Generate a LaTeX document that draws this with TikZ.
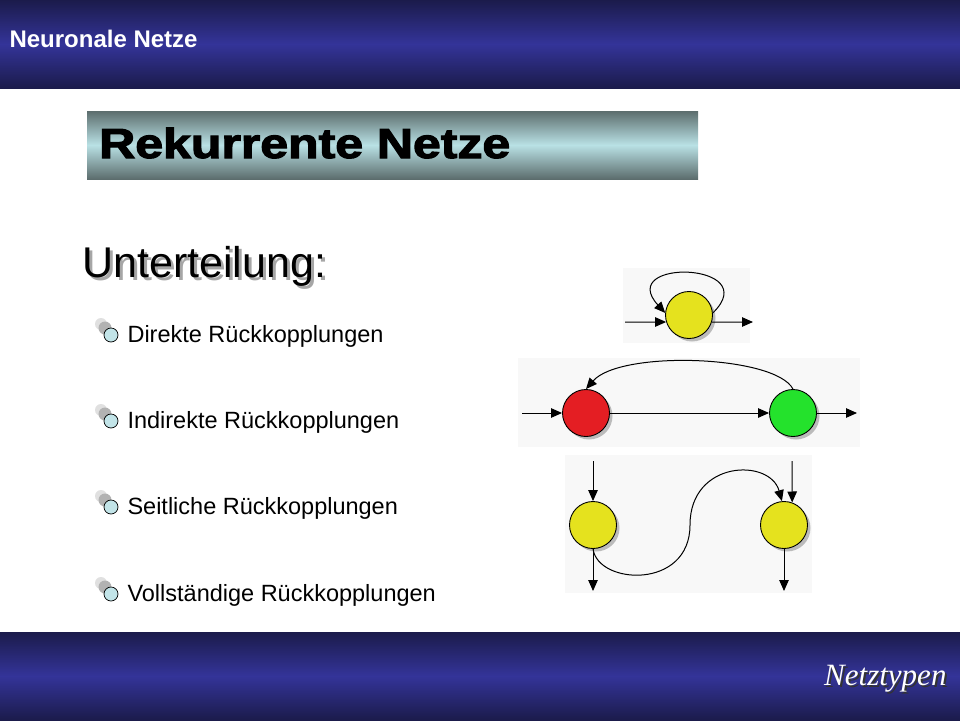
\documentclass[tikz,border=0pt]{standalone}
\usepackage{fontspec}
\setmainfont{Liberation Sans}
\newfontfamily\timesfont{Liberation Serif}
\newfontfamily\heavyfont[FakeBold=2.5]{Liberation Sans Bold}
\usetikzlibrary{arrows.meta,shadows}
\definecolor{navy}{HTML}{1B1B4B}
\definecolor{navymid}{HTML}{343499}
\definecolor{barend}{HTML}{5C6D6D}
\definecolor{barlight}{HTML}{B9E1E5}
\definecolor{neuyellow}{HTML}{E5E21E}
\definecolor{neured}{HTML}{E41E23}
\definecolor{neugreen}{HTML}{24E22C}
\definecolor{panel}{HTML}{F8F8F8}
\definecolor{dotfill}{HTML}{C2E4E8}

\begin{document}
\begin{tikzpicture}[x=1pt,y=-1pt,
    >={Triangle[length=11pt,width=9.5pt]},
    neuron/.style={circle,draw,line width=0.9pt,minimum size=47pt,inner sep=0pt,
        drop shadow={shadow xshift=3pt,shadow yshift=-3pt,fill=black!50}},
    link/.style={->,line width=1pt},
    dot/.style={circle,draw,fill=dotfill,line width=0.7pt,minimum size=14pt,inner sep=0pt},
    item/.style={anchor=west,font=\fontsize{23.5}{26}\selectfont}]
    \useasboundingbox (0,0) rectangle (960,720);
    \fill[white] (0,0) rectangle (960,720);

    \shade[top color=navy,bottom color=navy,middle color=navymid] (0,0) rectangle (960,88);
    \node[anchor=west,text=white,font=\bfseries\fontsize{24}{26}\selectfont] (hd) at (6,39) {Neuronale Netze};

    \shade[top color=barend,bottom color=barend,middle color=barlight] (87,111) rectangle (698,179);
    \node[anchor=base west,font=\heavyfont\fontsize{42}{44}\selectfont,xscale=1.19,inner sep=0pt] (tt) at (99,158) {Rekurrente Netze};

    \node[anchor=base west,text=black!35,font=\fontsize{43}{46}\selectfont,inner sep=0pt] at (85,280) {Unterteilung:};
    \node[anchor=base west,font=\fontsize{43}{46}\selectfont,inner sep=0pt] (ut) at (82,277) {Unterteilung:};

    \foreach \y/\t [count=\i] in {335/Direkte,421/Indirekte,507/Seitliche,594/Vollständige} {
        \fill[black!12] (101,\y-11) circle (6);
        \fill[black!30] (105,\y-7) circle (6.5);
        \node[dot] (b\i) at (111,\y) {};
        \node[item] (t\i) at (124,\y+1) {\t\ Rückkopplungen};
    }

    \fill[panel] (623,268) rectangle (750,343);
    \node[neuron,fill=neuyellow] (s) at (689,315) {};
    \coordinate (i0) at (625,322);
    \coordinate (o0) at (753,322);
    \draw[link] (i0) -- (s.197);
    \draw[link] (s.-17) -- (o0);
    \draw[link] (s.5) .. controls (765,262) and (615,258) .. (s.175);

    \fill[panel] (518,358) rectangle (860,447);
    \node[neuron,fill=neured] (r) at (586,413) {};
    \node[neuron,fill=neugreen] (g) at (793,413) {};
    \coordinate (i1) at (522,413);
    \coordinate (o1) at (857,413);
    \draw[link] (i1) -- (r);
    \draw[link] (r) -- (g);
    \draw[link] (g) -- (o1);
    \draw[link] (g.north) .. controls (775,355) and (620,350) .. (r.north);

    \fill[panel] (565,455) rectangle (812,593);
    \node[neuron,fill=neuyellow] (y1) at (593,525) {};
    \node[neuron,fill=neuyellow] (y2) at (784,525) {};
    \coordinate (i2) at (593,461);
    \coordinate (i3) at (792,461);
    \coordinate (o2) at (593,591);
    \coordinate (o3) at (784,591);
    \draw[link] (i2) -- (y1);
    \draw[link] (i3) -- (y2.70);
    \draw[link] (y1) -- (o2);
    \draw[link] (y2) -- (o3);
    \draw[link] (y1.south) .. controls (598,585) and (690,590) .. (690,525)
        .. controls (690,460) and (770,458) .. (y2.95);

    \shade[top color=navy,bottom color=navy,middle color=navymid] (0,632) rectangle (960,720);
    \node[anchor=east,text=black!80,font=\timesfont\itshape\fontsize{31}{34}\selectfont] at (952,681) {Netztypen};
    \node[anchor=east,text=white,font=\timesfont\itshape\fontsize{31}{34}\selectfont] (ft) at (950,679) {Netztypen};
\end{tikzpicture}
\end{document}
